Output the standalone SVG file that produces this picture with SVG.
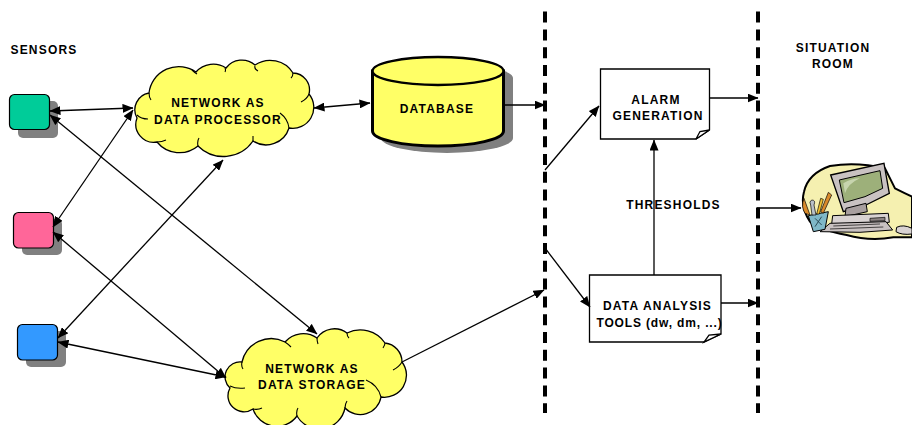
<svg xmlns="http://www.w3.org/2000/svg" width="912" height="425" viewBox="0 0 912 425">
<style>
text{font-family:"Liberation Sans",Arial,sans-serif;font-weight:bold;font-size:12px;letter-spacing:1.2px;fill:#000;text-anchor:middle}
.cl{fill:#ffff66;stroke:#000;stroke-width:1.3}
.cu{fill:none;stroke:#000;stroke-width:1.1}
.c{fill:none;stroke:#000;stroke-width:1.3}
.two{marker-start:url(#a);marker-end:url(#a)}
.one{marker-end:url(#a)}
.sh{fill:#808080}
.s{stroke:#000;stroke-width:1.2}
.box{fill:#fff;stroke:#000;stroke-width:1.3}
.dash{fill:none;stroke:#000;stroke-width:4;stroke-dasharray:11 6.8}
</style>
<defs>
<marker id="a" viewBox="0 0 11 9" refX="10.5" refY="4.5" markerWidth="11" markerHeight="9" markerUnits="userSpaceOnUse" orient="auto-start-reverse"><path d="M0 0L11 4.5L0 9z" fill="#000"/></marker>
</defs>
<g id="boundaries">
<path class="dash" d="M545 11.6V413"/>
<path class="dash" d="M758 11.6V413"/>
</g>
<g id="sensors-label"><text x="44" y="54">SENSORS</text></g>
<g id="sensor-1"><rect class="sh" x="18" y="101" width="40" height="37" rx="5"/><rect class="s" x="9.5" y="94.5" width="40" height="35" rx="5" fill="#00cc99"/></g>
<g id="sensor-2"><rect class="sh" x="22" y="219" width="40" height="36" rx="5"/><rect class="s" x="13.5" y="212.5" width="40" height="35.5" rx="5" fill="#ff6699"/></g>
<g id="sensor-3"><rect class="sh" x="26" y="331" width="40" height="36" rx="5"/><rect class="s" x="17.5" y="324.5" width="40" height="35.5" rx="5" fill="#3399ff"/></g>
<g id="cloud-processor">
<path class="cl" d="M149 93A30 30 0 0 1 196 72A23 23 0 0 1 226 68A20 20 0 0 1 255 65A27 27 0 0 1 293 73A17 17 0 0 1 309 94A21 21 0 0 1 289 128A24 24 0 0 1 253 141A36 36 0 0 1 198 146A29 29 0 0 1 157 142A18 18 0 0 1 137 118A17 17 0 0 1 149 93Z"/>
<path class="cu" d="M137 115Q141 119 148 119M149 93Q149 97 151 100M192 70Q194 72 197 74M225 68Q226 70 225 72M255 66Q254 69 258 71M293 73Q293 76 291 78M309 94Q307 99 301 102M280 113Q288 119 289 128M253 141L253 136M198 146Q197 141 199 138M157 142Q162 142 166 140"/>
<text x="218" y="107">NETWORK AS</text>
<text x="218" y="124">DATA PROCESSOR</text>
</g>
<g id="cloud-storage">
<path class="cl" d="M242 362A30 30 0 0 1 285 342A24 24 0 0 1 317 338A21 21 0 0 1 347 333A30 30 0 0 1 385 343A19 19 0 0 1 402 362A22 22 0 0 1 381 397A21 21 0 0 1 345 408A26 26 0 0 1 297 416A25 25 0 0 1 253 409A16 16 0 0 1 230 388A15 15 0 0 1 242 362Z"/>
<path class="cu" d="M230 386Q236 389 245 388M242 362Q241 366 243 369M285 342Q288 344 291 347M317 338Q317 341 318 344M347 333Q347 336 349 338M385 343Q385 345 383 348M402 362Q399 367 393 370M366 380Q378 385 381 397M345 408Q345 404 347 401M297 416Q296 411 298 408M253 409Q258 410 262 408"/>
<text x="312" y="373">NETWORK AS</text>
<text x="312" y="389">DATA STORAGE</text>
</g>
<g id="database">
<path class="sh" d="M381 78A66 14 0 0 1 513 78V138A66 15 0 0 1 381 138Z"/>
<path d="M372.500 71V131A65.500 15 0 0 0 503.500 131V71Z" fill="#ffff66" stroke="#000" stroke-width="3"/>
<ellipse cx="438" cy="71" rx="65.500" ry="14" fill="#ffff66" stroke="#000" stroke-width="2.500"/>
<text x="437" y="113">DATABASE</text>
</g>
<g id="alarm-generation">
<path class="box" d="M600.500 69H709.500V130L696 139H600.500Z"/>
<path class="box" d="M709.500 130L700 131.500L696 139Z"/>
<text x="656" y="104">ALARM</text>
<text x="658" y="120">GENERATION</text>
</g>
<g id="thresholds"><text x="673.500" y="209">THRESHOLDS</text></g>
<g id="data-analysis">
<path class="box" d="M589.500 275H721V334L704 342H589.500Z"/>
<path class="box" d="M721 334L709 335L704 342Z"/>
<text x="657.500" y="310">DATA ANALYSIS</text>
<text x="659.500" y="327" style="letter-spacing:.85px">TOOLS (dw, dm, ...)</text>
</g>
<g id="situation-room">
<text x="833" y="52">SITUATION</text>
<text x="833" y="68">ROOM</text>
</g>
<g id="computer" transform="translate(780 150) scale(.3333)">
<path d="M72 125Q85 70 150 48Q230 35 315 55L345 115Q375 130 396 140V262L340 262Q270 275 200 255Q120 240 90 215Q60 170 72 125Z" fill="#f5f0b0" stroke="#000" stroke-width="6"/>
<path d="M152 75L312 40L328 130L258 165L190 185Z" fill="#c9c2c2" stroke="#000" stroke-width="4"/>
<path d="M178 90L300 62L308 115L255 140L192 158Z" fill="#9db07a" stroke="#000" stroke-width="3"/>
<path d="M190 100Q215 85 240 85Q205 100 195 130Z" fill="#c7d4ae"/>
<path d="M198 175L258 160L262 185L195 200Z" fill="#a89f9f" stroke="#000" stroke-width="3"/>
<path d="M158 197L325 190L328 217L155 222Z" fill="#d8d2d2" stroke="#000" stroke-width="3"/>
<path d="M270 205L315 202L315 212L270 214Z" fill="#8c8484" stroke="#000" stroke-width="2"/>
<path d="M150 220L318 215L338 240L240 247L120 245Z" fill="#c9c2c2" stroke="#000" stroke-width="3"/>
<path d="M160 228L300 222M150 237L310 231" stroke="#000" stroke-width="2" fill="none"/>
<path d="M85 197L145 185L135 238L100 245Z" fill="#7fb8c8" stroke="#000" stroke-width="3"/>
<path d="M105 205L125 225M125 200L105 230" stroke="#2a4a55" stroke-width="3" fill="none"/>
<path d="M72 145L90 195L75 190Q62 170 72 145Z" fill="#d98a2b" stroke="#000" stroke-width="2"/>
<path d="M95 150Q108 150 102 165L108 195H96L92 165Q86 155 95 150Z" fill="#b8c0c8" stroke="#000" stroke-width="2"/>
<path d="M122 145L130 148L118 192H110Z" fill="#f0c030" stroke="#000" stroke-width="2"/>
<path d="M145 127L155 135L130 190L122 185Z" fill="#d98a2b" stroke="#000" stroke-width="2"/>
<path d="M350 232Q370 222 396 235V252Q365 256 348 245Z" fill="#d8d2d2" stroke="#000" stroke-width="3"/>
</g>
<g id="connectors">
<path class="c two" d="M50 111L133 108"/>
<path class="c two" d="M50 115L317 334"/>
<path class="c two" d="M53 227L133 110"/>
<path class="c two" d="M53 232L226 378"/>
<path class="c two" d="M58 338L223 160"/>
<path class="c two" d="M58 342L226 377"/>
<path class="c two" d="M314 108L370 103"/>
<path class="c one" d="M504 105L545 105"/>
<path class="c one" d="M545 170L599 106"/>
<path class="c one" d="M545 248L590 307"/>
<path class="c one" d="M402 362L544 290"/>
<path class="c one" d="M710 98L758 98"/>
<path class="c one" d="M654 275L654 140"/>
<path class="c one" d="M721 303L758 303"/>
<path class="c one" d="M757 208L801 208"/>
</g>
</svg>
